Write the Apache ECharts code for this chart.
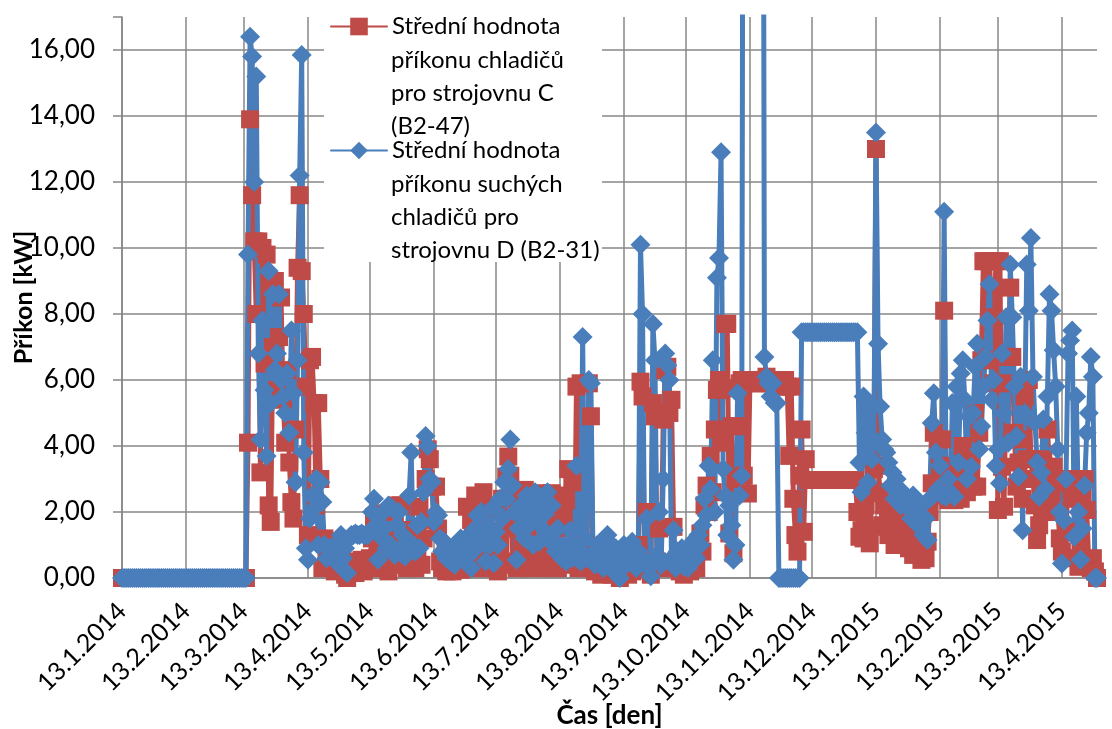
<!DOCTYPE html>
<html>
<head>
<meta charset="utf-8">
<title>Příkon chladičů</title>
<script src="https://cdn.jsdelivr.net/npm/echarts@6/dist/echarts.min.js"></script>
<style>
  html, body { margin: 0; padding: 0; background: #fff; }
  #chart { width: 1112px; height: 729px; }
</style>
</head>
<body>
<div id="chart"></div>
<script>
// Střední hodnota příkonu chladičů pro strojovnu C (B2-47), one value per day from 13.1.2014
const chillerC = [
  // 13.1. - 12.2.2014
  0, 0, 0, 0, 0, 0, 0, 0, 0, 0, 0, 0, 0, 0, 0, 0, 0, 0, 0, 0, 0, 0, 0, 0, 0, 0, 0, 0, 0, 0, 0,
  // 13.2. - 12.3.
  0, 0, 0, 0, 0, 0, 0, 0, 0, 0, 0, 0, 0, 0, 0, 0, 0, 0, 0, 0, 0, 0, 0, 0, 0, 0, 0, 0,
  // 13.3. - 12.4.
  0, 0, 4.1, 13.9, 11.6, 10.2, 8.0, 10.2, 3.2, 10.0, 6.5, 9.8, 2.2, 1.7, 7.0, 9.0, 5.7, 7.3, 8.5, 5.4,
  4.1, 6.3, 3.5, 2.3, 1.8, 4.5, 9.4, 11.6, 9.3, 8.0, 5.8,
  // 13.4. - 12.5.
  1.3, 6.6, 6.7, 5.3, 2.2, 5.3, 3.0, 0.3, 1.2, 0.6, 1.1, 0.5, 0.55, 0.2, 0.4, 0.25, 0.5, 0.3, 0.1, 0.0,
  0.3, 0.2, 0.4, 0.15, 0.5, 0.3, 0.55, 0.2, 0.4, 0.3,
  // 13.5. - 12.6.
  0.6, 1.2, 1.85, 0.4, 1.96, 0.3, 1.0, 0.5, 1.35, 0.2, 2.0, 0.5, 1.2, 2.2, 0.4, 2.2, 0.6, 1.45, 0.3, 1.45,
  0.5, 1.0, 0.3, 0.6, 2.16, 0.4, 1.2, 3.0, 3.9, 3.6, 2.77,
  // 13.6. - 12.7.
  1.76, 2.77, 1.5, 0.5, 0.3, 0.5, 0.2, 0.4, 0.3, 0.2, 0.5, 0.3, 0.4, 0.25, 0.5, 0.3, 2.16, 0.4, 1.76, 0.3,
  2.5, 1.8, 1.35, 0.5, 2.6, 0.3, 2.1, 0.5, 1.4, 0.3,
  // 13.7. - 12.8.
  0.5, 0.2, 1.0, 2.4, 0.4, 3.07, 3.68, 3.1, 0.5, 1.5, 0.3, 2.57, 0.4, 1.0, 2.67, 0.5, 2.1, 0.3, 1.9, 2.36,
  0.4, 1.3, 2.57, 0.6, 2.2, 0.3, 1.6, 2.57, 0.5, 2.26, 0.3,
  // 13.8. - 12.9.
  2.5, 0.5, 1.5, 2.36, 3.3, 0.6, 2.9, 0.4, 5.8, 0.3, 5.9, 0.5, 1.0, 0.3, 5.9, 4.9, 0.4, 0.2, 0.5, 0.3,
  0.1, 0.4, 0.2, 0.5, 0.3, 0.1, 0.4, 0.2, 0.3, 0.0, 0.4,
  // 13.9. - 12.10.
  0.2, 0.3, 0.1, 0.4, 0.2, 0.5, 0.3, 1.0, 5.95, 5.5, 0.4, 2.0, 0.3, 0.1, 5.3, 4.9, 0.5, 1.5, 0.3, 4.8,
  6.3, 6.4, 5.0, 5.4, 1.55, 0.3, 0.5, 0.2, 0.4, 0.1,
  // 13.10. - 12.11.
  0.3, 0.5, 0.2, 0.4, 0.6, 0.3, 1.0, 1.35, 0.8, 2.2, 2.8, 2.0, 3.7, 2.6, 4.5, 5.7, 6.0, 4.1, 5.75, 7.7,
  7.7, 1.35, 4.6, 0.75, 3.0, 4.6, 5.9, 6.0, 3.1, 6.0, 2.56,
  // 13.11. - 12.12.
  6.0, 6.0, 5.9, 6.0, 6.0, 5.9, 6.0, 6.0, 6.1, 6.0, 5.9, 6.0, 6.0, 5.9, 6.0, 5.8, 5.9, 6.0, 5.8, 3.7,
  5.8, 2.4, 1.3, 0.8, 3.1, 4.5, 1.4, 3.6, 2.97, 2.97,
  // 13.12. - 12.1.2015
  2.97, 2.97, 2.97, 2.97, 2.97, 2.97, 2.97, 2.97, 2.97, 2.97, 2.97, 2.97, 2.97, 2.97, 2.97, 2.97,
  2.97, 2.97, 2.97, 2.97, 2.97, 2.97, 2.0, 1.25, 1.45, 1.2, 2.2, 1.5, 1.05, 2.57, 3.3,
  // 13.1. - 12.2.2015
  13.0, 3.4, 2.6, 1.6, 2.2, 1.55, 1.3, 2.4, 1.7, 1.0, 2.2, 1.85, 1.4, 1.0, 1.35, 1.6, 0.9, 1.3, 0.7, 1.2,
  0.85, 1.1, 0.55, 0.85, 0.6, 1.1, 2.0, 2.87, 4.4, 2.5, 4.2,
  // 13.2. - 12.3.
  3.4, 4.2, 8.1, 2.6, 2.36, 3.2, 2.5, 2.36, 3.3, 3.07, 2.4, 4.0, 2.97, 2.6, 2.97, 3.5, 2.77, 5.0, 2.77, 4.4,
  6.6, 9.6, 9.6, 6.6, 9.6, 7.9, 5.9, 9.6,
  // 13.3. - 12.4.
  2.06, 9.6, 3.37, 2.16, 5.9, 6.7, 8.8, 6.7, 4.4, 2.77, 3.5, 4.2, 2.4, 5.5, 3.6, 6.0, 3.6, 3.0, 2.2, 1.15,
  1.6, 2.5, 3.6, 2.0, 4.5, 3.37, 2.5, 3.37, 2.9, 2.0, 1.2,
  // 13.4. - 30.4.
  0.8, 2.97, 1.4, 2.97, 3.0, 2.4, 2.87, 0.6, 0.34, 1.1, 2.5, 3.0, 2.06, 0.5, 0.3, 0.6, 0.2, 0.0
]

// Střední hodnota příkonu suchých chladičů pro strojovnu D (B2-31)
const dryCoolerD = [
  // 13.1. - 12.2.2014
  0, 0, 0, 0, 0, 0, 0, 0, 0, 0, 0, 0, 0, 0, 0, 0, 0, 0, 0, 0, 0, 0, 0, 0, 0, 0, 0, 0, 0, 0, 0,
  // 13.2. - 12.3.
  0, 0, 0, 0, 0, 0, 0, 0, 0, 0, 0, 0, 0, 0, 0, 0, 0, 0, 0, 0, 0, 0, 0, 0, 0, 0, 0, 0,
  // 13.3. - 12.4.
  0, 0, 9.8, 16.4, 15.8, 12.0, 15.2, 6.8, 4.2, 7.8, 5.7, 3.7, 9.3, 5.3, 8.6, 6.3, 6.8, 8.6, 6.0, 5.5,
  5.0, 6.2, 4.4, 7.5, 5.6, 2.9, 6.6, 12.2, 15.85, 3.8, 0.9,
  // 13.4. - 12.5.
  0.55, 1.8, 2.5, 2.1, 3.0, 1.0, 2.9, 2.3, 1.0, 0.6, 0.9, 0.8, 0.95, 0.6, 0.75, 0.4, 1.3, 0.6, 0.9, 0.15,
  1.2, 1.3, 1.3, 1.35, 1.3, 1.3, 1.35, 1.3, 1.3, 1.3,
  // 13.5. - 12.6.
  1.4, 2.0, 2.4, 1.6, 0.55, 1.9, 1.2, 1.5, 0.9, 2.2, 1.0, 2.1, 0.7, 1.6, 2.0, 0.75, 1.3, 0.65, 1.1, 2.5,
  3.8, 1.0, 0.8, 1.6, 0.9, 1.7, 2.6, 4.3, 4.0, 3.0, 2.9,
  // 13.6. - 12.7.
  1.7, 2.0, 1.9, 1.2, 0.8, 1.1, 0.6, 0.9, 0.5, 0.7, 0.4, 1.0, 0.8, 1.2, 0.6, 1.1, 0.9, 1.3, 0.3, 0.8,
  1.5, 1.9, 1.1, 2.0, 1.2, 0.5, 1.6, 1.0, 2.1, 0.45,
  // 13.7. - 12.8.
  1.4, 1.0, 2.4, 1.8, 2.9, 2.4, 3.3, 4.2, 2.8, 2.0, 0.55, 1.5, 2.2, 1.9, 1.2, 2.5, 1.6, 2.1, 1.0, 2.6,
  1.7, 1.1, 2.3, 1.9, 1.4, 2.6, 1.2, 2.2, 1.0, 0.8, 1.5,
  // 13.8. - 12.9.
  0.9, 0.6, 1.0, 0.5, 0.8, 1.45, 0.6, 1.0, 3.4, 0.9, 0.5, 7.3, 1.2, 0.6, 6.0, 5.9, 0.75, 0.4, 1.0, 0.6,
  1.1, 0.3, 0.8, 1.3, 0.6, 1.0, 0.2, 0.9, 0.5, 0.0, 0.7,
  // 13.9. - 12.10.
  1.0, 0.4, 0.8, 0.5, 1.1, 0.6, 0.3, 0.8, 10.1, 8.0, 0.5, 1.8, 0.3, 0.05, 7.7, 6.6, 0.7, 2.0, 0.4, 3.0,
  6.8, 6.45, 6.0, 0.6, 1.45, 0.3, 0.8, 0.5, 0.9, 0.35,
  // 13.10. - 12.11.
  0.7, 0.3, 1.0, 0.5, 1.15, 0.6, 1.3, 1.0, 1.6, 2.4, 1.9, 3.4, 2.7, 6.6, 2.0, 9.1, 9.7, 12.9, 3.3, 2.5,
  1.3, 2.2, 1.6, 0.55, 1.0, 5.6, 2.5, 3.1, 38, 41, 44,
  // 13.11. - 12.12.
  42, 45, 40, 44, 41, 43, 39, 6.7, 6.1, 5.9, 5.5, 5.9, 5.3, 5.3, 0, 0, 0, 0, 0, 0,
  0, 0, 0, 0, 0, 7.45, 7.45, 7.45, 7.45, 7.45,
  // 13.12. - 12.1.2015
  7.45, 7.45, 7.45, 7.45, 7.45, 7.45, 7.45, 7.45, 7.45, 7.45, 7.45, 7.45, 7.45, 7.45, 7.45, 7.45,
  7.45, 7.45, 7.45, 7.45, 7.45, 7.45, 7.45, 3.5, 2.6, 5.5, 4.4, 2.9, 5.2, 3.6, 4.2,
  // 13.1. - 12.2.2015
  13.5, 7.1, 5.2, 4.2, 3.9, 3.8, 3.5, 2.8, 3.2, 2.4, 3.0, 2.7, 2.2, 2.6, 2.3, 2.4, 2.1, 1.8, 2.5, 1.75,
  2.0, 1.55, 2.2, 1.3, 1.8, 1.15, 2.4, 4.7, 5.6, 3.8, 2.7,
  // 13.2. - 12.3.
  3.4, 2.5, 11.1, 2.46, 3.0, 2.6, 5.3, 2.46, 5.8, 3.5, 6.2, 6.6, 5.4, 3.0, 4.9, 3.37, 5.0, 6.4, 7.1, 3.9,
  4.6, 5.8, 6.7, 7.8, 8.9, 5.4, 6.0, 3.4,
  // 13.3. - 12.4.
  3.9, 2.87, 6.8, 5.0, 7.9, 4.1, 9.5, 7.9, 5.8, 4.3, 3.07, 6.1, 1.45, 5.0, 9.5, 8.1, 10.3, 6.1, 4.7, 3.5,
  2.46, 3.2, 4.8, 2.7, 5.5, 8.6, 8.1, 6.9, 5.8, 3.9, 2.0,
  // 13.4. - 30.4.
  0.44, 1.75, 3.0, 6.8, 7.2, 7.5, 1.25, 5.5, 2.0, 0.55, 1.5, 2.8, 4.4, 5.0, 6.7, 6.1, 0, 0
]

// dates labelled on the x axis
const tickLabels = [
  '13.1.2014', '13.2.2014', '13.3.2014', '13.4.2014', '13.5.2014', '13.6.2014',
  '13.7.2014', '13.8.2014', '13.9.2014', '13.10.2014', '13.11.2014', '13.12.2014',
  '13.1.2015', '13.2.2015', '13.3.2015', '13.4.2015',
]

const seriesNames = [
  'Střední hodnota příkonu chladičů pro strojovnu C (B2-47)',
  'Střední hodnota příkonu suchých chladičů pro strojovnu D (B2-31)',
]
const legendLines = [
  ['Střední hodnota', 'příkonu chladičů', 'pro strojovnu C', '(B2-47)'],
  ['Střední hodnota', 'příkonu suchých', 'chladičů pro', 'strojovnu D (B2-31)'],
]

// one category per day
const startDay = Date.UTC(2014, 0, 13)
const days = []
for (let i = 0; i < chillerC.length; i += 1) {
  const d = new Date(startDay + i * 86400000)
  days.push(d.getUTCDate() + '.' + (d.getUTCMonth() + 1) + '.' + d.getUTCFullYear())
}

const FONT = 'Lato, "Open Sans", sans-serif'
const gridColor = '#878787'
const isTick = (idx, value) => tickLabels.indexOf(value) !== -1

const chart = echarts.init(document.getElementById('chart'))

const option = {
  animation: false,
  backgroundColor: '#fff',
  textStyle: { fontFamily: FONT, color: '#000' },
  grid: {
    left: 122,
    right: 15,
    top: 17,
    bottom: 151,
    containLabel: false,
    outerBoundsMode: 'none',
  },
  legend: {
    orient: 'vertical',
    left: 330,
    top: 10,
    padding: 0,
    itemGap: 91,
    itemWidth: 56,
    itemHeight: 22,
    selectedMode: false,
    z: 100,
    data: seriesNames,
    formatter: (name) => legendLines[seriesNames.indexOf(name)][0],
    textStyle: { fontFamily: FONT, fontSize: 24, color: '#000', lineHeight: 33 },
  },
  graphic: [
    {
      type: 'rect',
      z: 50,
      shape: { x: 324, y: 10, width: 278, height: 252 },
      style: { fill: '#fff' },
    },
    {
      type: 'text',
      z: 60,
      x: 391,
      y: 93,
      style: {
        text: legendLines[0].slice(1).join('\n'),
        font: '24px ' + FONT,
        fill: '#000',
        lineHeight: 33,
        align: 'left',
        verticalAlign: 'middle',
      },
    },
    {
      type: 'text',
      z: 60,
      x: 391,
      y: 217,
      style: {
        text: legendLines[1].slice(1).join('\n'),
        font: '24px ' + FONT,
        fill: '#000',
        lineHeight: 33,
        align: 'left',
        verticalAlign: 'middle',
      },
    },
  ],
  xAxis: {
    type: 'category',
    data: days,
    boundaryGap: false,
    name: 'Čas [den]',
    nameLocation: 'middle',
    nameGap: 125,
    nameMoveOverlap: false,
    nameTextStyle: { fontFamily: FONT, fontSize: 26, fontWeight: 'bold', color: '#000' },
    axisLine: { show: true, lineStyle: { color: gridColor, width: 1.5 } },
    axisTick: { show: false },
    axisLabel: {
      interval: isTick,
      rotate: 45,
      margin: 29,
      padding: [28, 0, 0, 0],
      fontFamily: FONT,
      fontSize: 25,
      color: '#000',
    },
    splitLine: {
      show: true,
      interval: isTick,
      lineStyle: { color: gridColor, width: 1.5 },
    },
  },
  yAxis: {
    type: 'value',
    min: 0,
    max: 17,
    interval: 2,
    name: 'Příkon [kW]',
    nameLocation: 'middle',
    nameRotate: 90,
    nameGap: 86,
    nameMoveOverlap: false,
    nameTextStyle: { fontFamily: FONT, fontSize: 25, fontWeight: 'bold', color: '#000' },
    axisLine: { show: true, lineStyle: { color: gridColor, width: 1.5 } },
    axisTick: { show: true, inside: false, length: 9, lineStyle: { color: gridColor, width: 1.5 } },
    axisLabel: {
      margin: 27,
      fontFamily: FONT,
      fontSize: 26,
      color: '#000',
      formatter: (v) => (v % 2 === 0 ? v.toFixed(2).replace('.', ',') : ''),
    },
    splitLine: {
      show: true,
      showMaxLine: false,
      lineStyle: { color: gridColor, width: 1.5 },
    },
  },
  series: [
    {
      name: seriesNames[0],
      type: 'line',
      data: chillerC,
      symbol: 'rect',
      symbolSize: 18,
      showSymbol: true,
      showAllSymbol: true,
      itemStyle: { color: '#BE4B48' },
      lineStyle: { color: '#BE4B48', width: 5, cap: 'round', join: 'round' },
      emphasis: { disabled: true },
    },
    {
      name: seriesNames[1],
      type: 'line',
      data: dryCoolerD,
      symbol: 'diamond',
      symbolSize: 20,
      showSymbol: true,
      showAllSymbol: true,
      itemStyle: { color: '#4A7EBB' },
      lineStyle: { color: '#4A7EBB', width: 5, cap: 'round', join: 'round' },
      emphasis: { disabled: true },
    },
  ],
}

chart.setOption(option)
</script>
</body>
</html>
